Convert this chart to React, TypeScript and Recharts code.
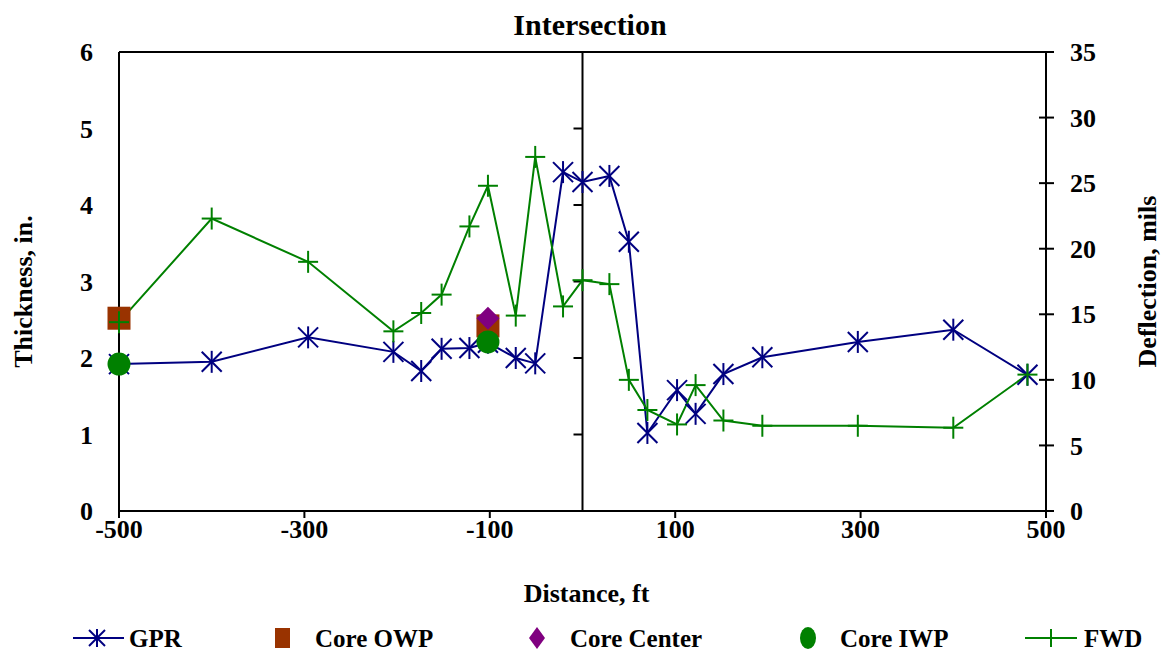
import { ComposedChart, Line, XAxis, YAxis, ReferenceLine, Legend } from 'recharts'

const distance = [-500, -400, -296, -204, -174, -152, -122, -102, -72, -51, -21, 0, 29, 50, 70, 102, 122, 152, 194, 297, 400, 480]
const gprThickness = [1.92, 1.95, 2.27, 2.08, 1.83, 2.12, 2.13, 2.2, 2.0, 1.93, 4.43, 4.3, 4.38, 3.52, 1.02, 1.58, 1.27, 1.79, 2.01, 2.21, 2.37, 1.78]
const fwdDeflection = [14.4, 22.3, 19.0, 13.7, 15.1, 16.5, 21.7, 24.8, 14.9, 27.0, 15.6, 17.6, 17.3, 10.0, 7.7, 6.6, 9.6, 6.9, 6.5, 6.5, 6.35, 10.4]

const coreOwpDistance = [-500, -102]
const coreOwpThickness = [2.52, 2.42]
const coreCenterDistance = [-102]
const coreCenterThickness = [2.52]
const coreIwpDistance = [-500, -102]
const coreIwpThickness = [1.92, 2.21]

const distanceTicks = [-500, -300, -100, 100, 300, 500]
const thicknessTicks = [0, 1, 2, 3, 4, 5, 6]
const deflectionTicks = [0, 5, 10, 15, 20, 25, 30, 35]
const innerTicks = [1, 2, 3, 4, 5]

const FONT = '"Liberation Serif", "Times New Roman", serif'
const NAVY = '#000080'
const GREEN = '#008000'
const BROWN = '#993300'
const PURPLE = '#800080'

const gprData = distance.map((d, i) => ({ distance: d, thickness: gprThickness[i] }))
const fwdData = distance.map((d, i) => ({ distance: d, deflection: fwdDeflection[i] }))
const owpData = coreOwpDistance.map((d, i) => ({ distance: d, thickness: coreOwpThickness[i] }))
const centerData = coreCenterDistance.map((d, i) => ({ distance: d, thickness: coreCenterThickness[i] }))
const iwpData = coreIwpDistance.map((d, i) => ({ distance: d, thickness: coreIwpThickness[i] }))

const tickStyle = { fontFamily: FONT, fontWeight: 'bold', fontSize: 26, fill: '#000' }

function Star({ cx, cy, r = 10 }: any) {
  return (
    <g stroke={NAVY} strokeWidth={2} fill="none">
      <line x1={cx} y1={cy - r - 1} x2={cx} y2={cy + r + 1} />
      <line x1={cx - r} y1={cy - r} x2={cx + r} y2={cy + r} />
      <line x1={cx - r} y1={cy + r} x2={cx + r} y2={cy - r} />
    </g>
  )
}

function Plus({ cx, cy, r = 10 }: any) {
  return (
    <g stroke={GREEN} strokeWidth={2}>
      <line x1={cx - r} y1={cy} x2={cx + r} y2={cy} />
      <line x1={cx} y1={cy - r - 1} x2={cx} y2={cy + r + 1} />
    </g>
  )
}

const RightTick = (props: any) => {
  const { x, y, payload } = props
  const axisX = x - 24
  return (
    <g>
      <line x1={axisX - 7} y1={y} x2={axisX + 8} y2={y} stroke="#000" strokeWidth={2} />
      <text x={x} y={y} dy="0.35em" textAnchor="start" style={tickStyle}>{payload.value}</text>
    </g>
  )
}

const renderLegend = () => {
  const cy = 27
  const txt = { fontFamily: FONT, fontWeight: 'bold' as const, fontSize: 25, fill: '#000' }
  return (
    <svg width={1161} height={40} style={{ display: 'block', overflow: 'visible' }}>
      <line x1={73} y1={cy} x2={124} y2={cy} stroke={NAVY} strokeWidth={2} />
      <Star cx={97} cy={cy} r={8} />
      <text x={129} y={cy} dy="0.35em" style={txt}>GPR</text>
      <rect x={275} y={cy - 10} width={15} height={20} fill={BROWN} />
      <text x={315} y={cy} dy="0.35em" style={txt}>Core OWP</text>
      <polygon points={`537,${cy - 11} 545,${cy} 537,${cy + 11} 529,${cy}`} fill={PURPLE} />
      <text x={570} y={cy} dy="0.35em" style={txt}>Core Center</text>
      <ellipse cx={808} cy={cy} rx={8} ry={11} fill={GREEN} />
      <text x={840} y={cy} dy="0.35em" style={txt}>Core IWP</text>
      <line x1={1025} y1={cy} x2={1077} y2={cy} stroke={GREEN} strokeWidth={2} />
      <Plus cx={1051} cy={cy} r={8} />
      <text x={1084} y={cy} dy="0.35em" style={txt}>FWD</text>
    </svg>
  )
}

export default function App() {
  return (
    <div style={{ position: 'relative', width: 1161, height: 651, background: '#fff' }}>
      <style>{'body{margin:0}'}</style>
      <div
        style={{
          position: 'absolute', left: 0, top: 8, width: 1180, textAlign: 'center',
          fontFamily: FONT, fontWeight: 'bold', fontSize: 30, lineHeight: '34px', zIndex: 1,
        }}
      >
        Intersection
      </div>
      <ComposedChart width={1161} height={651} margin={{ top: 52, right: 0, bottom: 0, left: 0 }}>
        <XAxis
          dataKey="distance"
          type="number"
          domain={[-500, 500]}
          ticks={distanceTicks}
          height={100}
          tickSize={7}
          tickMargin={2}
          axisLine={{ stroke: '#000', strokeWidth: 2 }}
          tickLine={{ stroke: '#000', strokeWidth: 2 }}
          tick={tickStyle}
          label={(p: any) => {
            const { x, y, width } = p.viewBox
            return (
              <text x={x + width / 2 + 4} y={y + 91} textAnchor="middle" style={tickStyle}>Distance, ft</text>
            )
          }}
        />
        <YAxis
          yAxisId="left"
          domain={[0, 6]}
          ticks={thicknessTicks}
          width={119}
          tickSize={0}
          tickMargin={26}
          tickLine={false}
          axisLine={{ stroke: '#000', strokeWidth: 2 }}
          tick={tickStyle}
          label={(p: any) => {
            const { y, height } = p.viewBox
            const cx = 23
            const cy = y + height / 2 + 10
            return (
              <text x={cx} y={cy} transform={`rotate(-90, ${cx}, ${cy})`} textAnchor="middle" dominantBaseline="central" style={tickStyle}>Thickness, in.</text>
            )
          }}
        />
        <YAxis
          yAxisId="right"
          orientation="right"
          domain={[0, 35]}
          ticks={deflectionTicks}
          width={115}
          tickSize={8}
          tickMargin={16}
          tickLine={false}
          axisLine={{ stroke: '#000', strokeWidth: 2 }}
          tick={<RightTick />}
          label={(p: any) => {
            const { y, height } = p.viewBox
            const cx = 1147
            const cy = y + height / 2
            return (
              <text x={cx} y={cy} transform={`rotate(-90, ${cx}, ${cy})`} textAnchor="middle" dominantBaseline="central" style={tickStyle}>Deflection, mils</text>
            )
          }}
        />
        <Legend verticalAlign="bottom" content={renderLegend} wrapperStyle={{ left: 0, bottom: 0, width: 1161, height: 40 }} />

        <ReferenceLine y={6} yAxisId="left" stroke="#000" strokeWidth={2} />
        <ReferenceLine x={0} yAxisId="left" stroke="#000" strokeWidth={2} />
        {innerTicks.map((v) => (
          <ReferenceLine
            key={v}
            y={v}
            yAxisId="left"
            shape={(p: any) => {
              const mid = (p.x1 + p.x2) / 2
              return <line x1={mid - 9} y1={p.y1} x2={mid} y2={p.y1} stroke="#000" strokeWidth={2} />
            }}
          />
        ))}

        <Line
          data={gprData}
          dataKey="thickness"
          yAxisId="left"
          stroke={NAVY}
          strokeWidth={2}
          dot={(p: any) => <Star key={`g${p.index}`} cx={p.cx} cy={p.cy} />}
          activeDot={false}
          isAnimationActive={false}
        />
        <Line
          data={owpData}
          dataKey="thickness"
          yAxisId="left"
          stroke="none"
          dot={(p: any) => <rect key={`o${p.index}`} x={p.cx - 11.5} y={p.cy - 11.5} width={23} height={23} fill={BROWN} />}
          activeDot={false}
          isAnimationActive={false}
        />
        <Line
          data={centerData}
          dataKey="thickness"
          yAxisId="left"
          stroke="none"
          dot={(p: any) => (
            <polygon
              key={`c${p.index}`}
              points={`${p.cx},${p.cy - 11.5} ${p.cx + 11.5},${p.cy} ${p.cx},${p.cy + 11.5} ${p.cx - 11.5},${p.cy}`}
              fill={PURPLE}
            />
          )}
          activeDot={false}
          isAnimationActive={false}
        />
        <Line
          data={iwpData}
          dataKey="thickness"
          yAxisId="left"
          stroke="none"
          dot={(p: any) => <circle key={`i${p.index}`} cx={p.cx} cy={p.cy} r={11.5} fill={GREEN} />}
          activeDot={false}
          isAnimationActive={false}
        />
        <Line
          data={fwdData}
          dataKey="deflection"
          yAxisId="right"
          stroke={GREEN}
          strokeWidth={2}
          dot={(p: any) => <Plus key={`f${p.index}`} cx={p.cx} cy={p.cy} />}
          activeDot={false}
          isAnimationActive={false}
        />
      </ComposedChart>
    </div>
  )
}
